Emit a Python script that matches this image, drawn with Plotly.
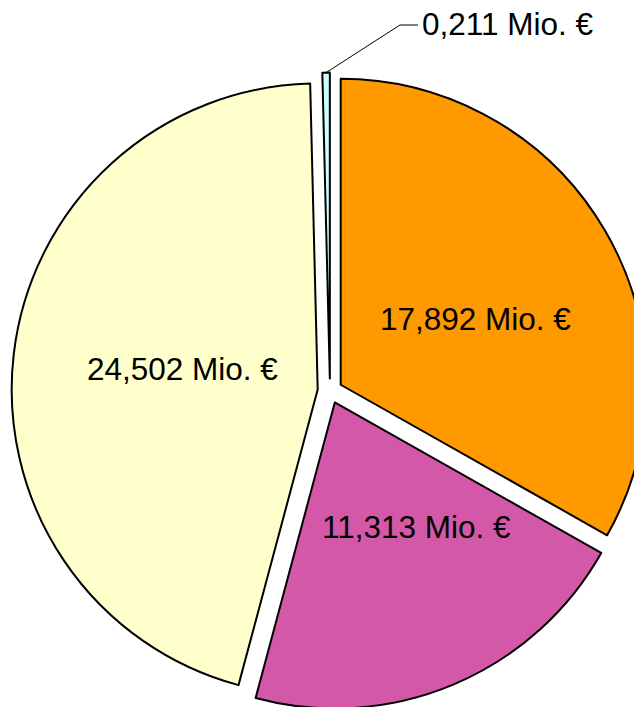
import math
import plotly.graph_objects as go

labels = ["A", "B", "C", "D"]
values = [17.892, 11.313, 24.502, 0.211]
text_labels = ["17,892 Mio. €", "11,313 Mio. €", "24,502 Mio. €", "0,211 Mio. €"]
colors = ["#FF9900", "#D358A7", "#FFFFCC", "#CCFFFF"]

W, H = 642, 707
PULL = 0.0405
FONT = dict(family="Liberation Sans, Arial, sans-serif", size=31.5, color="black")

# label placement inside the slices (fraction of radius, turn from bisector in deg)
LABEL_RADIUS = [0.531, 0.528, 0.486]
LABEL_TURN = [3.8, -9.7, 1.9]

# pie box in pixels (figure coords)
cx, cy, half = 322, 383, 318.4
box_x = ((cx - half) / W, (cx + half) / W)
box_y = (1 - (cy + half) / H, 1 - (cy - half) / H)

fig = go.Figure(
    go.Pie(
        labels=labels,
        values=values,
        textinfo="none",
        sort=False,
        direction="clockwise",
        rotation=0,
        pull=[PULL] * 4,
        marker=dict(colors=colors, line=dict(color="black", width=2)),
        domain=dict(x=box_x, y=box_y),
        showlegend=False,
        hoverinfo="label+value",
    )
)


def px(x):
    return x / W


def py(y):
    return 1 - y / H


r = 2 * half / (2 + 2 * PULL)
total = sum(values)
start = 0.0
for i, v in enumerate(values):
    mid = (start + v / 2) / total * 2 * math.pi
    start += v
    if i < 3:
        ang = mid + math.radians(LABEL_TURN[i])
        d = r * LABEL_RADIUS[i]
        fig.add_annotation(
            x=px(cx + d * math.sin(ang)), y=py(cy - d * math.cos(ang)),
            xref="paper", yref="paper",
            xanchor="center", yanchor="middle",
            text=text_labels[i], showarrow=False, font=FONT,
        )
    else:
        # leader line from the small slice's outer tip to its label
        tip_x = cx + r * (1 + PULL) * math.sin(mid)
        tip_y = cy - r * (1 + PULL) * math.cos(mid)
        elbow_x, elbow_y, end_x = 392, 17, 410
        fig.add_shape(
            type="path",
            xref="paper", yref="paper",
            path=f"M {px(tip_x)} {py(tip_y)} L {px(elbow_x)} {py(elbow_y)} L {px(end_x)} {py(elbow_y)}",
            line=dict(color="black", width=1),
        )
        fig.add_annotation(
            x=px(412), y=py(16.5),
            xref="paper", yref="paper",
            xanchor="left", yanchor="middle",
            text=text_labels[i], showarrow=False, font=FONT,
        )

fig.update_layout(
    width=W,
    height=H,
    margin=dict(l=0, r=0, t=0, b=0),
    paper_bgcolor="white",
    plot_bgcolor="white",
)
fig.write_html("out.html")
